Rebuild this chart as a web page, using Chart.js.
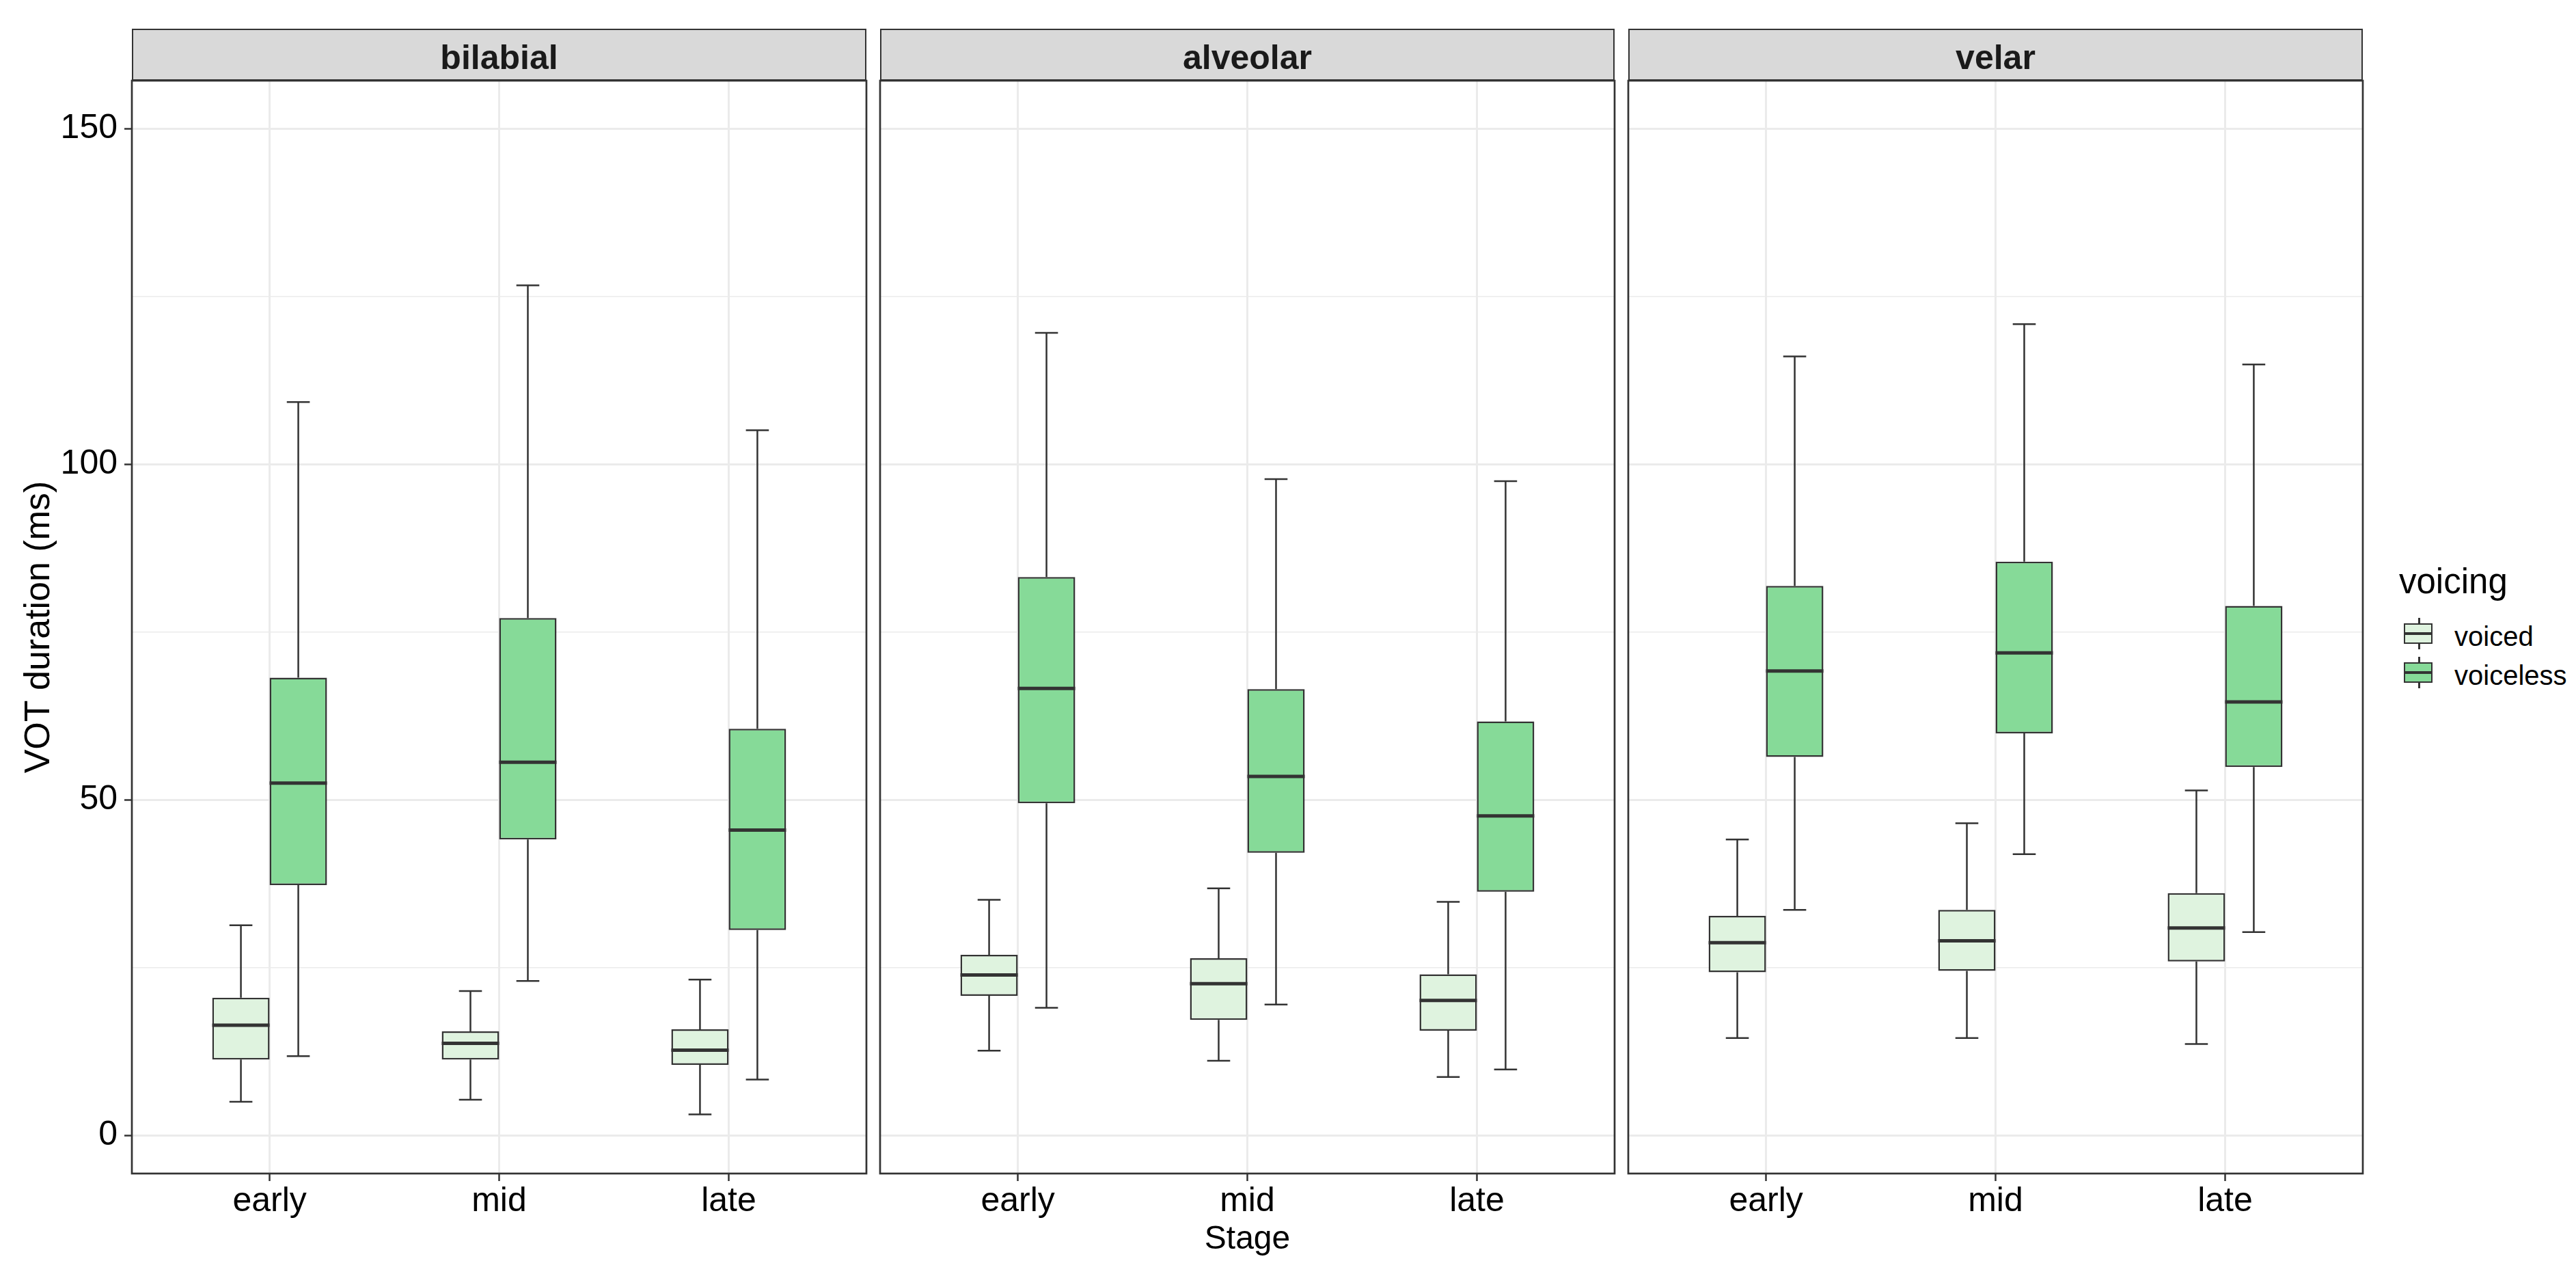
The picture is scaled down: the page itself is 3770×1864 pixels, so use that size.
<!DOCTYPE html>
<html>
<head>
<meta charset="utf-8">
<script src="https://cdn.jsdelivr.net/npm/chart.js@4.4.1/dist/chart.umd.min.js"></script>
<style>
  body { margin: 0; background: #fff; width: 3770px; height: 1864px; position: relative; overflow: hidden;
         font-family: "Liberation Sans", Arial, sans-serif; }
  canvas { position: absolute; }
  .strip { position: absolute; top: 42px; height: 76px; box-sizing: border-box; background: #d9d9d9;
           border: 2.5px solid #333; }
  .strip span { position: absolute; left: 0; right: 0; top: 15px; text-align: center; font-weight: bold;
                font-size: 50px; line-height: 50px; color: #1a1a1a; }
  .leg-title { position: absolute; left: 3511px; top: 825px; font-size: 51px; line-height: 51px; color: #000; }
  .leg-text { position: absolute; left: 3592px; font-size: 40px; line-height: 40px; color: #000; }
  .leg-whisker { position: absolute; left: 3539px; width: 2.5px; background: #333; }
  .leg-box { position: absolute; left: 3518px; width: 42px; height: 30px; box-sizing: border-box; border: 2.5px solid #333; }
  .leg-median { position: absolute; left: 3518px; width: 42px; height: 4px; background: #333; }
</style>
</head>
<body>
<script>
// Facets, x categories and fills
const places = ["bilabial", "alveolar", "velar"];
const stages = ["early", "mid", "late"];
const voicing = ["voiced", "voiceless"];
const fills = ["#dff3df", "#86da98"];

// y axis breaks
const yMajor = [0, 50, 100, 150];
const yMinor = [25, 75, 125];

// boxplot stats per stage: [lower whisker, Q1, median, Q3, upper whisker]
const bilabialVoiced    = [[5.0, 11.3, 16.4, 20.5, 31.3], [5.3, 11.3, 13.7, 15.5, 21.5], [3.1, 10.5, 12.7, 15.8, 23.2]];
const bilabialVoiceless = [[11.8, 37.3, 52.5, 68.2, 109.3], [23.0, 44.1, 55.6, 77.1, 126.7], [8.3, 30.6, 45.5, 60.6, 105.1]];
const alveolarVoiced    = [[12.6, 20.8, 23.9, 26.9, 35.1], [11.1, 17.2, 22.6, 26.4, 36.8], [8.7, 15.6, 20.1, 24.0, 34.8]];
const alveolarVoiceless = [[19.0, 49.5, 66.6, 83.2, 119.6], [19.5, 42.1, 53.5, 66.5, 97.8], [9.8, 36.3, 47.6, 61.7, 97.5]];
const velarVoiced       = [[14.5, 24.3, 28.7, 32.7, 44.1], [14.5, 24.5, 29.0, 33.6, 46.5], [13.6, 25.9, 30.9, 36.1, 51.4]];
const velarVoiceless    = [[33.6, 56.4, 69.2, 81.9, 116.1], [41.9, 59.9, 71.9, 85.5, 120.9], [30.3, 54.9, 64.6, 78.9, 114.9]];

const panelStats = [
  [bilabialVoiced, bilabialVoiceless],
  [alveolarVoiced, alveolarVoiceless],
  [velarVoiced, velarVoiceless]
];

const FONT = '"Liberation Sans", Arial, sans-serif';
const LINE = "#333333";
const GRID = "#ebebeb";

// page layout of the facet panels
const PANEL_LEFT = 193, PANEL_W = 1075, PANEL_STEP = 1095;
const CANVAS_TOP = 112, CANVAS_H = 1752, PAD = 6, XAXIS_H = 147;

// whiskers, caps, medians and the panel frame, drawn from the bars and the y scale
const boxParts = {
  id: "boxParts",
  beforeDatasetsDraw(chart) {
    const ctx = chart.ctx, y = chart.scales.y;
    ctx.save();
    ctx.strokeStyle = LINE;
    ctx.lineWidth = 2.5;
    chart.data.datasets.forEach((ds, i) => {
      chart.getDatasetMeta(i).data.forEach((bar, j) => {
        const s = ds.stats[j];
        const cap = bar.width * 0.2;
        ctx.beginPath();
        ctx.moveTo(bar.x, y.getPixelForValue(s[3]));
        ctx.lineTo(bar.x, y.getPixelForValue(s[4]));
        ctx.moveTo(bar.x, y.getPixelForValue(s[1]));
        ctx.lineTo(bar.x, y.getPixelForValue(s[0]));
        ctx.moveTo(bar.x - cap, y.getPixelForValue(s[4]));
        ctx.lineTo(bar.x + cap, y.getPixelForValue(s[4]));
        ctx.moveTo(bar.x - cap, y.getPixelForValue(s[0]));
        ctx.lineTo(bar.x + cap, y.getPixelForValue(s[0]));
        ctx.stroke();
      });
    });
    ctx.restore();
  },
  afterDatasetsDraw(chart) {
    const ctx = chart.ctx, y = chart.scales.y;
    ctx.save();
    ctx.strokeStyle = LINE;
    ctx.lineWidth = 5;
    chart.data.datasets.forEach((ds, i) => {
      chart.getDatasetMeta(i).data.forEach((bar, j) => {
        const py = y.getPixelForValue(ds.stats[j][2]);
        ctx.beginPath();
        ctx.moveTo(bar.x - bar.width / 2, py);
        ctx.lineTo(bar.x + bar.width / 2, py);
        ctx.stroke();
      });
    });
    const a = chart.chartArea;
    ctx.lineWidth = 2.7;
    ctx.strokeRect(a.left, a.top, a.right - a.left, a.bottom - a.top);
    ctx.restore();
  }
};

// keep the plot area exactly where the facet panel sits
function noLabelPadding(scale) {
  scale.paddingTop = 0;
  scale.paddingBottom = 0;
  scale.paddingLeft = 0;
  scale.paddingRight = 0;
}

function makePanel(k) {
  const first = k === 0;
  const left = first ? 0 : PANEL_LEFT + PANEL_STEP * k - PAD;
  const width = first ? PANEL_LEFT + PANEL_W + PAD : PANEL_W + 2 * PAD;

  const strip = document.createElement("div");
  strip.className = "strip";
  strip.style.left = (PANEL_LEFT + PANEL_STEP * k) + "px";
  strip.style.width = PANEL_W + "px";
  const label = document.createElement("span");
  label.textContent = places[k];
  strip.appendChild(label);
  document.body.appendChild(strip);

  const canvas = document.createElement("canvas");
  canvas.width = width;
  canvas.height = CANVAS_H;
  canvas.style.left = left + "px";
  canvas.style.top = CANVAS_TOP + "px";
  canvas.style.width = width + "px";
  canvas.style.height = CANVAS_H + "px";
  document.body.appendChild(canvas);

  const datasets = voicing.map((v, i) => ({
    label: v,
    stats: panelStats[k][i],
    data: panelStats[k][i].map((s, j) => ({ x: j + 1, y: [s[1], s[3]] })),
    backgroundColor: fills[i],
    borderColor: LINE,
    borderWidth: 2.5,
    borderSkipped: false,
    categoryPercentage: 0.5,
    barPercentage: 1.0
  }));

  new Chart(canvas, {
    type: "bar",
    data: { datasets },
    plugins: [boxParts],
    options: {
      responsive: false,
      animation: false,
      devicePixelRatio: 1,
      layout: { padding: { left: first ? 0 : PAD, right: PAD, top: PAD, bottom: 0 } },
      plugins: { legend: { display: false }, tooltip: { enabled: false } },
      scales: {
        x: {
          type: "linear",
          offset: false,
          min: 0.4,
          max: 3.6,
          afterBuildTicks: (scale) => { scale.ticks = stages.map((s, j) => ({ value: j + 1 })); },
          afterFit: (scale) => { scale.height = XAXIS_H; noLabelPadding(scale); },
          ticks: {
            autoSkip: false,
            maxRotation: 0,
            padding: 0,
            color: "#000",
            font: { family: FONT, size: 50 },
            callback: (v) => stages[v - 1]
          },
          grid: { offset: false, color: GRID, lineWidth: 3, tickLength: 11, tickColor: LINE, tickWidth: 2.5 },
          border: { display: false },
          title: {
            display: k === 1,
            text: "Stage",
            color: "#000",
            font: { family: FONT, size: 48 },
            padding: { top: 0, bottom: 21 }
          }
        },
        y: {
          min: -5.7,
          max: 157.2,
          afterBuildTicks: (scale) => {
            scale.ticks = yMajor.concat(yMinor).sort((a, b) => a - b).map((v) => ({ value: v }));
          },
          afterFit: (scale) => { scale.width = first ? PANEL_LEFT : 0; noLabelPadding(scale); },
          ticks: {
            display: first,
            autoSkip: false,
            padding: 10,
            color: "#000",
            font: { family: FONT, size: 50 },
            callback: (v) => (yMajor.includes(v) ? String(v) : "")
          },
          grid: {
            color: GRID,
            lineWidth: (c) => (yMajor.includes(c.tick.value) ? 3 : 1.5),
            drawTicks: first,
            tickLength: 11,
            tickColor: (c) => (yMajor.includes(c.tick.value) ? LINE : "rgba(0,0,0,0)"),
            tickWidth: 2.5
          },
          border: { display: false },
          title: {
            display: first,
            text: "VOT duration (ms)",
            color: "#000",
            font: { family: FONT, size: 52 },
            padding: { top: 26, bottom: 0 }
          }
        }
      }
    }
  });
}

places.forEach((p, k) => makePanel(k));

// legend for the fill scale
function addEl(cls, css, text) {
  const el = document.createElement("div");
  el.className = cls;
  Object.assign(el.style, css);
  if (text) el.textContent = text;
  document.body.appendChild(el);
}
addEl("leg-title", {}, "voicing");
voicing.forEach((v, i) => {
  const off = i * 57;
  addEl("leg-whisker", { top: (904 + off) + "px", height: "46px" });
  addEl("leg-box", { top: (912 + off) + "px", background: fills[i] });
  addEl("leg-median", { top: (925 + off) + "px" });
  addEl("leg-text", { top: (911 + off) + "px" }, v);
});
</script>
</body>
</html>
